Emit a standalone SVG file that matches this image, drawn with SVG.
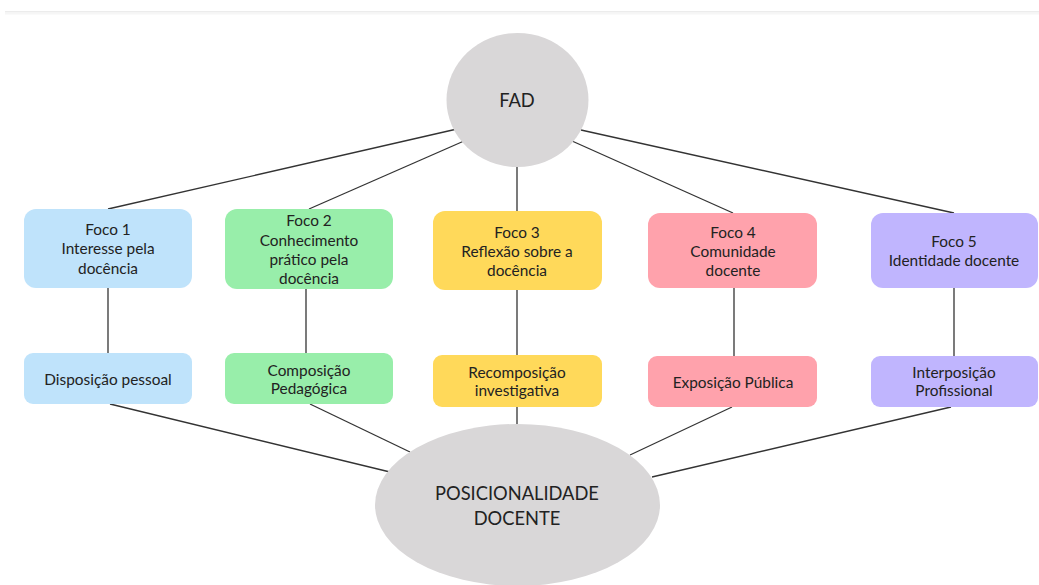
<svg xmlns="http://www.w3.org/2000/svg" width="1039" height="585" viewBox="0 0 1039 585">
<style>
text{font-family:Lato,"Open Sans","Liberation Sans",sans-serif;fill:#222;text-anchor:middle;dominant-baseline:central}
.s{font-size:15.4px}
.b{font-size:18.3px}
.e{fill:#d9d7d8}
.c line{stroke:#333;stroke-width:1.3}
</style>
<rect x="0" y="0" width="1039" height="585" fill="#fff"/>
<rect x="5" y="11" width="1034" height="1.5" fill="#ececec"/>
<rect x="5" y="12.5" width="1034" height="2" fill="#f6f6f6"/>
<g class="c" id="connectors">
<line x1="457" y1="129" x2="108" y2="209"/>
<line x1="464" y1="141" x2="309" y2="209"/>
<line x1="517" y1="166" x2="517" y2="211"/>
<line x1="572" y1="141" x2="733" y2="213"/>
<line x1="581" y1="130" x2="954" y2="213"/>
<line x1="108" y1="288" x2="108" y2="353"/>
<line x1="306" y1="289" x2="306" y2="353"/>
<line x1="517" y1="290" x2="517" y2="355"/>
<line x1="734" y1="288" x2="734" y2="356"/>
<line x1="954" y1="288" x2="954" y2="356"/>
<line x1="110" y1="404" x2="390" y2="472"/>
<line x1="310" y1="404" x2="410" y2="452"/>
<line x1="517" y1="407" x2="517" y2="424"/>
<line x1="732" y1="407" x2="630" y2="455"/>
<line x1="951" y1="407" x2="652" y2="477"/>
</g>
<g id="fad"><ellipse class="e" cx="517.5" cy="100" rx="71" ry="67"/><text class="b" x="517" y="100">FAD</text></g>
<g id="foco1"><rect x="24" y="209" width="168" height="79" rx="12" fill="#bfe3fb"/><text class="s" x="108" y="229">Foco 1</text><text class="s" x="108" y="248">Interesse pela</text><text class="s" x="108" y="268">docência</text></g>
<g id="foco2"><rect x="225" y="209" width="168" height="80" rx="12" fill="#98eeaa"/><text class="s" x="309" y="220">Foco 2</text><text class="s" x="309" y="240">Conhecimento</text><text class="s" x="309" y="259">prático pela</text><text class="s" x="309" y="278">docência</text></g>
<g id="foco3"><rect x="433" y="211" width="169" height="79" rx="12" fill="#ffd95a"/><text class="s" x="517" y="232">Foco 3</text><text class="s" x="517" y="251">Reflexão sobre a</text><text class="s" x="517" y="270">docência</text></g>
<g id="foco4"><rect x="648" y="213" width="169" height="75" rx="12" fill="#ffa2ac"/><text class="s" x="733" y="232">Foco 4</text><text class="s" x="733" y="251">Comunidade</text><text class="s" x="733" y="270">docente</text></g>
<g id="foco5"><rect x="871" y="213" width="167" height="75" rx="12" fill="#c0b5fe"/><text class="s" x="954" y="241">Foco 5</text><text class="s" x="954" y="260">Identidade docente</text></g>
<g id="disposicao"><rect x="24" y="353" width="168" height="51" rx="9" fill="#bfe3fb"/><text class="s" x="108" y="379">Disposição pessoal</text></g>
<g id="composicao"><rect x="225" y="353" width="168" height="51" rx="9" fill="#98eeaa"/><text class="s" x="309" y="370">Composição</text><text class="s" x="309" y="388">Pedagógica</text></g>
<g id="recomposicao"><rect x="433" y="355" width="169" height="52" rx="9" fill="#ffd95a"/><text class="s" x="517" y="372">Recomposição</text><text class="s" x="517" y="390">investigativa</text></g>
<g id="exposicao"><rect x="648" y="356" width="169" height="51" rx="9" fill="#ffa2ac"/><text class="s" x="733" y="382">Exposição Pública</text></g>
<g id="interposicao"><rect x="871" y="356" width="167" height="51" rx="9" fill="#c0b5fe"/><text class="s" x="954" y="372">Interposição</text><text class="s" x="954" y="390">Profissional</text></g>
<g id="posicionalidade"><ellipse class="e" cx="517.5" cy="505" rx="142.5" ry="81"/><text class="b" x="517" y="493">POSICIONALIDADE</text><text class="b" x="517" y="518">DOCENTE</text></g>
</svg>
